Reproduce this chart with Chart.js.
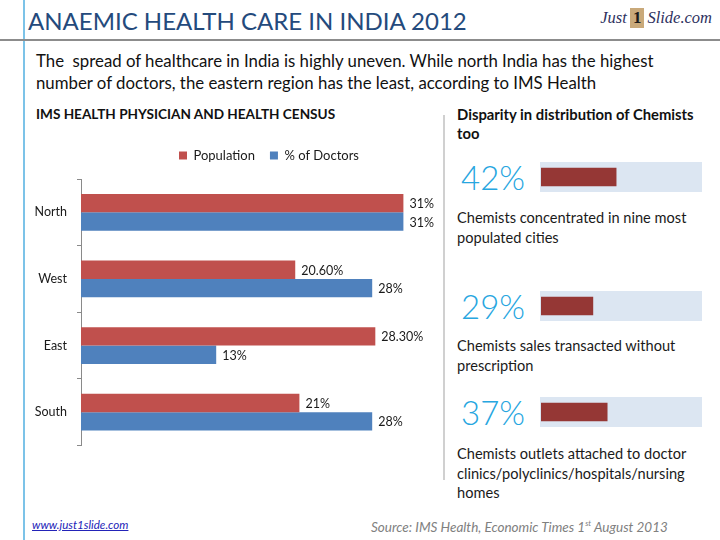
<!DOCTYPE html>
<html>
<head>
<meta charset="utf-8">
<script src="https://cdn.jsdelivr.net/npm/chart.js@4.4.1/dist/chart.umd.min.js"></script>
<style>
  html, body { margin: 0; padding: 0; background: #fff; }
  body { width: 720px; height: 540px; position: relative; overflow: hidden; font-family: Lato, "Open Sans", sans-serif; color: #1a1a1a; }
  .abs { position: absolute; white-space: nowrap; }
  #vline { position: absolute; left: 23px; top: 0; width: 2px; height: 540px; background: #7cc3e8; }
  #hline { position: absolute; left: 0; top: 39px; width: 720px; height: 2px; background: #8c8c8c; }
  #title { left: 28px; top: 6px; font-size: 24px; color: #244a7c; }
  #subtitle { left: 36px; top: 50px; font-size: 16.8px; line-height: 22px; color: #111; white-space: normal; width: 660px; }
  #leftHead { left: 36px; top: 106px; font-size: 13.6px; font-weight: bold; color: #111; }
  #rightHead { left: 457px; top: 105px; font-size: 14.8px; font-weight: bold; color: #111; line-height: 19px; }
  #frame { position: absolute; left: 443px; top: 115px; width: 2px; height: 365px; background: #d0d0d0; }
  .big { font-size: 33px; font-weight: 300; color: #27a6df; left: 461px; }
  .desc { font-size: 14.6px; line-height: 19.5px; color: #1a1a1a; left: 457px; white-space: normal; width: 258px; }
  .prog { position: absolute; left: 540px; width: 162px; height: 30px; background: #dce6f2; }
  #logo { right: 8px; top: 8px; font-family: "Liberation Serif", serif; font-style: italic; font-size: 16.5px; color: #2e3160; }
  #logo .one { display: inline-block; background: #c9a97a; color: #1b1b1b; font-style: normal; font-weight: bold; padding: 0 3px; margin: 0 3px; font-size: 17px; line-height: 20px; }
  #url { left: 32px; top: 518px; font-size: 11.6px; font-style: italic; color: #2323b8; text-decoration: underline; }
  #source { left: 371px; top: 518px; font-size: 13.5px; font-style: italic; color: #808080; }
  #source sup { font-size: 8px; }
</style>
</head>
<body>
<div id="vline"></div>
<div id="hline"></div>
<div id="title" class="abs">ANAEMIC HEALTH CARE IN INDIA 2012</div>
<div id="logo" class="abs">Just<span class="one">1</span>Slide.com</div>
<div id="subtitle" class="abs">The&nbsp; spread of healthcare in India is highly uneven. While north India has the highest number of doctors, the eastern region has the least, according to IMS Health</div>
<div id="leftHead" class="abs">IMS HEALTH PHYSICIAN AND HEALTH CENSUS</div>
<div id="rightHead" class="abs">Disparity in distribution of Chemists<br>too</div>
<div id="frame"></div>

<canvas id="main" style="position:absolute;left:24px;top:134px;" width="421" height="329"></canvas>

<div class="abs big" id="big0" style="top:157px;"></div>
<div class="prog" style="top:162px;"><canvas id="p0" width="162" height="30"></canvas></div>
<div class="abs desc" style="top:208px;">Chemists concentrated in nine most populated cities</div>

<div class="abs big" id="big1" style="top:286px;"></div>
<div class="prog" style="top:291px;"><canvas id="p1" width="162" height="30"></canvas></div>
<div class="abs desc" style="top:336px;">Chemists sales transacted without prescription</div>

<div class="abs big" id="big2" style="top:392px;"></div>
<div class="prog" style="top:397px;"><canvas id="p2" width="162" height="30"></canvas></div>
<div class="abs desc" style="top:444px;">Chemists outlets attached to doctor clinics/polyclinics/hospitals/nursing homes</div>

<div id="url" class="abs">www.just1slide.com</div>
<div id="source" class="abs">Source: IMS Health, Economic Times 1<sup>st</sup> August 2013</div>

<script>
// ---- data ----
const categories = ['North', 'West', 'East', 'South'];
const seriesNames = ['Population', '% of Doctors'];
const population = [31, 20.6, 28.3, 21];
const doctors = [31, 28, 13, 28];
const populationLabels = ['31%', '20.60%', '28.30%', '21%'];
const doctorLabels = ['31%', '28%', '13%', '28%'];
const chemistValues = [42, 29, 37];
const chemistLabels = ['42%', '29%', '37%'];

Chart.defaults.font.family = 'Lato, "Open Sans", sans-serif';
Chart.defaults.animation = false;

const legendGap = {
  id: 'legendGap',
  beforeInit(chart) {
    const orig = chart.legend.fit;
    chart.legend.fit = function () {
      orig.bind(chart.legend)();
      this.height += 7;
    };
  },
  afterLayout(chart) {
    chart.legend.left += 6;
    chart.legend.right += 6;
  }
};

const valueLabelPlugin = {
  id: 'valueLabels',
  afterDatasetsDraw(chart) {
    const ctx = chart.ctx;
    const texts = [populationLabels, doctorLabels];
    ctx.save();
    ctx.font = '12.5px Lato, "Open Sans", sans-serif';
    ctx.fillStyle = '#1a1a1a';
    ctx.textAlign = 'left';
    ctx.textBaseline = 'middle';
    chart.data.datasets.forEach((ds, di) => {
      const meta = chart.getDatasetMeta(di);
      meta.data.forEach((el, i) => {
        ctx.fillText(texts[di][i], el.x + 6, el.y + 1);
      });
    });
    ctx.restore();
  }
};

new Chart(document.getElementById('main'), {
  type: 'bar',
  data: {
    labels: categories,
    datasets: [
      { label: seriesNames[0], data: population, backgroundColor: '#c0504d', borderWidth: 0 },
      { label: seriesNames[1], data: doctors, backgroundColor: '#4f81bd', borderWidth: 0 }
    ]
  },
  options: {
    responsive: false,
    indexAxis: 'y',
    layout: { padding: { left: 0, right: 0, top: 0, bottom: 6 } },
    datasets: { bar: { categoryPercentage: 0.55, barPercentage: 1.0 } },
    plugins: {
      legend: {
        position: 'top',
        fullSize: false,
        labels: { boxWidth: 8, boxHeight: 8, padding: 15, color: '#1a1a1a', font: { size: 13 } }
      },
      tooltip: { enabled: false }
    },
    scales: {
      x: { display: false, min: 0, max: 35 },
      y: {
        afterFit(scale) { scale.width = 57; },
        grid: { drawOnChartArea: false, tickLength: 4, color: '#8a8a8a', offset: true },
        border: { display: true, color: '#8a8a8a', width: 1 },
        ticks: { padding: 10, color: '#1a1a1a', font: { size: 12.5 } }
      }
    }
  },
  plugins: [legendGap, valueLabelPlugin]
});

chemistValues.forEach((v, i) => {
  document.getElementById('big' + i).textContent = chemistLabels[i];
  new Chart(document.getElementById('p' + i), {
    type: 'bar',
    data: { labels: [''], datasets: [{ data: [v], backgroundColor: '#953735', borderWidth: 0, barThickness: 18 }] },
    options: {
      responsive: false,
      indexAxis: 'y',
      layout: { padding: { left: 1, right: 0, top: 0, bottom: 0 } },
      plugins: { legend: { display: false }, tooltip: { enabled: false } },
      scales: {
        x: { display: false, min: 0, max: 90 },
        y: { display: false }
      }
    }
  });
});
</script>
</body>
</html>
